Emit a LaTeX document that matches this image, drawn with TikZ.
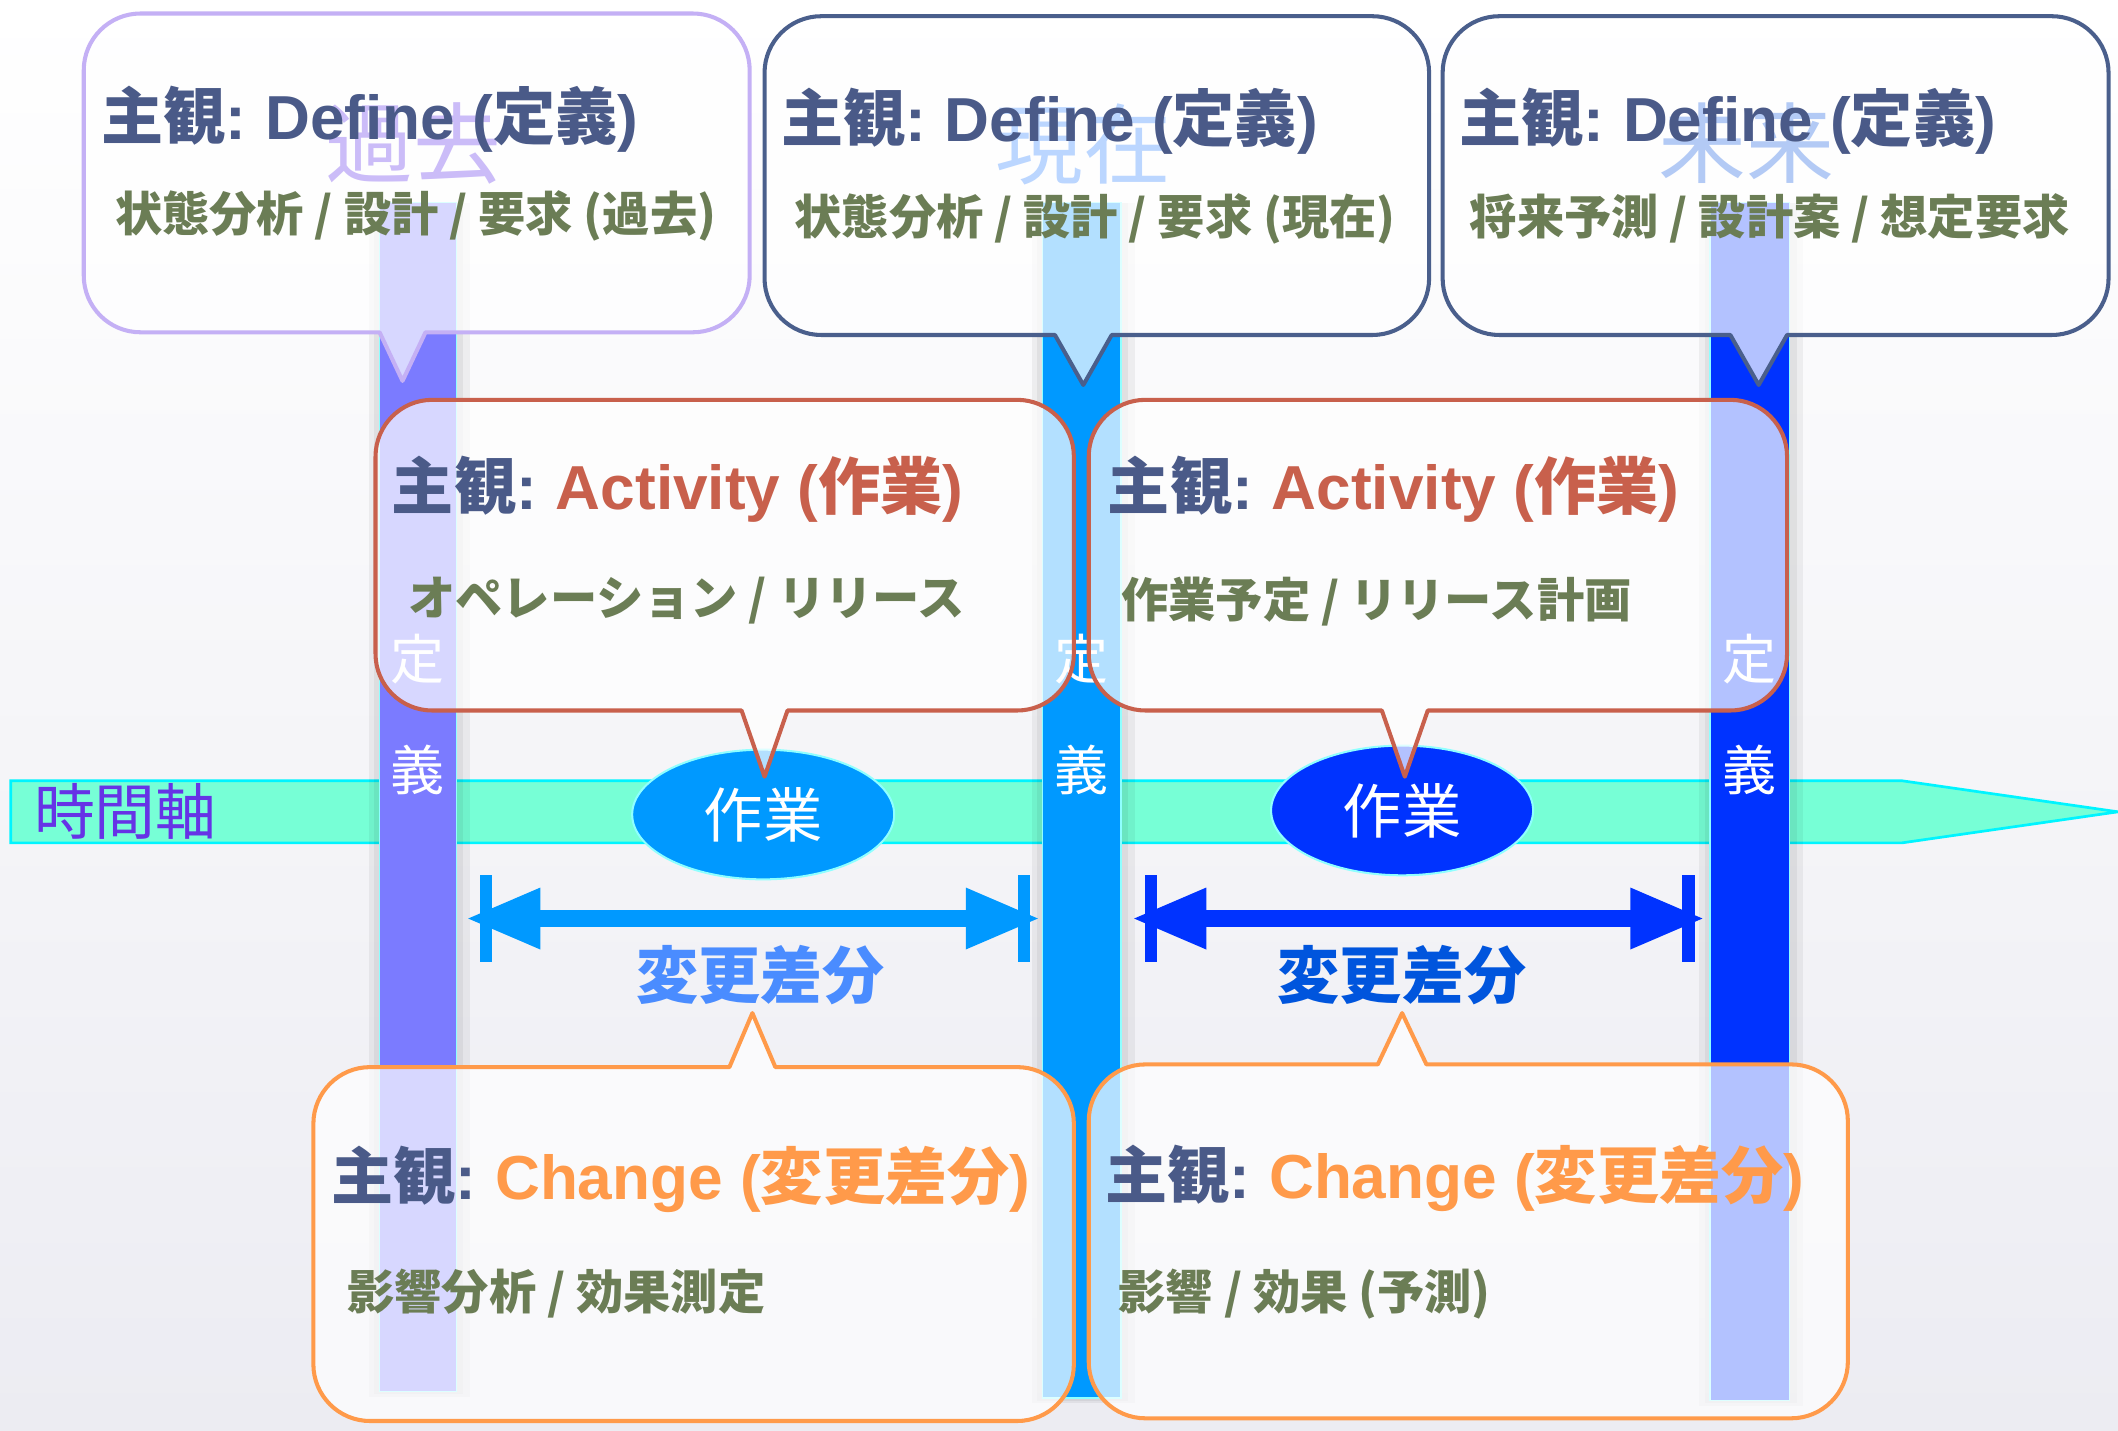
\documentclass[tikz,border=0pt]{standalone}
\usepackage{fontspec}
\setmainfont{Noto Sans CJK JP}
\newfontfamily\lat{Liberation Sans}[UprightFont={* Bold}, BoldFont={* Bold}]
\usetikzlibrary{arrows.meta,shapes.geometric}
\definecolor{bgbot}{HTML}{ECECF2}
\definecolor{axisfill}{HTML}{77FFD6}
\definecolor{axisline}{HTML}{00F4FF}
\definecolor{axistext}{HTML}{6633E6}
\definecolor{barA}{HTML}{7B7BFF}
\definecolor{barB}{HTML}{0099FF}
\definecolor{barC}{HTML}{0033FF}
\definecolor{edgecyan}{HTML}{8FFFFF}
\definecolor{defA}{HTML}{C4B0F5}
\definecolor{defB}{HTML}{4A5F8C}
\definecolor{actline}{HTML}{C8604C}
\definecolor{chgline}{HTML}{FF9A4A}
\definecolor{titleblue}{HTML}{4A5A88}
\definecolor{subgreen}{HTML}{6B7D55}
\definecolor{wmA}{HTML}{CBBCF8}
\definecolor{wmB}{HTML}{BBD6FF}
\definecolor{wmC}{HTML}{B3CAF5}
\definecolor{diffA}{HTML}{4A8CFF}
\definecolor{diffB}{HTML}{0055DD}
\newcommand\callDown[8]{%
\draw[#1] (#2,{-(#3)-42}) arc[start angle=180,end angle=90,radius=42pt] -- ({#4-42},-#3) arc[start angle=90,end angle=0,radius=42pt] -- (#4,{-(#5)+42}) arc[start angle=0,end angle=-90,radius=42pt] -- ({#6+#7},-#5) -- (#6,-#8) -- ({#6-#7},-#5) -- ({#2+42},-#5) arc[start angle=-90,end angle=-180,radius=42pt] -- cycle;}
\newcommand\callUp[8]{%
\draw[#1] (#2,{-(#3)-42}) arc[start angle=180,end angle=90,radius=42pt] -- ({#6-#7},-#3) -- (#6,-#8) -- ({#6+#7},-#3) -- ({#4-42},-#3) arc[start angle=90,end angle=0,radius=42pt] -- (#4,{-(#5)+42}) arc[start angle=0,end angle=-90,radius=42pt] -- ({#2+42},-#5) arc[start angle=-90,end angle=-180,radius=42pt] -- cycle;}
\tikzset{
  boxfill/.style={fill=white, fill opacity=0.7, line width=3pt, line join=round},
  bar/.style={draw=edgecyan, line width=1pt},
  barlabel/.style={text=white, inner sep=0pt, font=\fontsize{40}{44}\selectfont},
  title/.style={anchor=west, inner sep=0pt, text=titleblue, font=\fontsize{46}{52}\selectfont\bfseries},
  subtitle/.style={anchor=west, inner sep=0pt, text=subgreen, font=\fontsize{35}{40}\selectfont\bfseries},
  watermark/.style={inner sep=0pt, font=\fontsize{65}{68}\selectfont},
  work/.style={ellipse, draw=edgecyan, line width=1.5pt, minimum width=194pt, minimum height=96pt, inner sep=0pt, text=white, font=\fontsize{44}{48}\selectfont},
  diffarrow/.style={line width=12pt, {Triangle[length=55pt,width=42pt]}-{Triangle[length=55pt,width=42pt]}},
  tick/.style={line width=9pt},
  difflabel/.style={inner sep=0pt, font=\fontsize{46}{50}\selectfont\bfseries}
}
\begin{document}
\begin{tikzpicture}[x=1pt,y=1pt]
\useasboundingbox (0,0) rectangle (1568,-1059);
\shade[top color=white, bottom color=bgbot] (0,0) rectangle (1568,-1059);

% time axis
\draw[fill=axisfill, draw=axisline, line width=2pt] (8,-578) -- (1408,-578) -- (1568,-601) -- (1408,-624) -- (8,-624) -- cycle;
\node[anchor=west, inner sep=0pt, text=axistext, font=\fontsize{45}{48}\selectfont] (axis) at (25,-601) {時間軸};

% bar shadows
\foreach \xa/\xb/\yb in {281/338/1030, 772/830/1035, 1266/1325/1037}{
  \fill[black, opacity=0.05] ({\xa-8},-150) rectangle ({\xb+10},-\yb-4);
  \fill[black, opacity=0.05] ({\xa-4},-150) rectangle ({\xb+5},-\yb-2);
}
% bars
\draw[bar, fill=barA] (281,-150) rectangle (338,-1030);
\draw[bar, fill=barB] (772,-150) rectangle (830,-1035);
\draw[bar, fill=barC] (1266,-150) rectangle (1325,-1037);

% work ellipses
\node[work, fill=barB] (workA) at (565,-603) {作業};
\node[work, fill=barC] (workB) at (1038,-600) {作業};

% difference arrows
\coordinate (dAl) at (345,-680); \coordinate (dAr) at (770,-680);
\coordinate (tA1a) at (360,-648); \coordinate (tA1b) at (360,-712);
\coordinate (tA2a) at (758,-648); \coordinate (tA2b) at (758,-712);
\draw[diffarrow, barB] (dAl) -- (dAr);
\draw[tick, barB] (tA1a) -- (tA1b);
\draw[tick, barB] (tA2a) -- (tA2b);
\coordinate (dBl) at (838,-680); \coordinate (dBr) at (1262,-680);
\coordinate (tB1a) at (852,-648); \coordinate (tB1b) at (852,-712);
\coordinate (tB2a) at (1250,-648); \coordinate (tB2b) at (1250,-712);
\draw[diffarrow, barC] (dBl) -- (dBr);
\draw[tick, barC] (tB1a) -- (tB1b);
\draw[tick, barC] (tB2a) -- (tB2b);
\node[difflabel, text=diffA] (diffA) at (563,-722) {変更差分};
\node[difflabel, text=diffB] (diffB) at (1038,-722) {変更差分};

% Define callouts
\callDown{boxfill, draw=defA}{62}{10}{555}{246}{298}{17}{282}
\callDown{boxfill, draw=defB}{566}{12}{1058}{248}{802}{21}{285}
\callDown{boxfill, draw=defB}{1068}{12}{1561}{248}{1302}{21}{285}
\node[watermark, text=wmA] (wmA) at (306,-106) {過去};
\node[watermark, text=wmB] (wmB) at (802,-107) {現在};
\node[watermark, text=wmC] (wmC) at (1293,-106) {未来};
\node[title] (defTA) at (75,-88) {主観{\lat :} {\lat Define (}定義{\lat )}};
\node[title] (defTB) at (578,-90) {主観{\lat :} {\lat Define (}定義{\lat )}};
\node[title] (defTC) at (1080,-90) {主観{\lat :} {\lat Define (}定義{\lat )}};
\node[subtitle] (defSA) at (85,-160) {状態分析 / 設計 / 要求 (過去)};
\node[subtitle] (defSB) at (588,-162) {状態分析 / 設計 / 要求 (現在)};
\node[subtitle] (defSC) at (1088,-162) {将来予測 / 設計案 / 想定要求};

% bar labels
\node[barlabel] (lA1) at (309,-488) {定};
\node[barlabel] (lA2) at (309,-570) {義};
\node[barlabel] (lB1) at (801,-488) {定};
\node[barlabel] (lB2) at (801,-570) {義};
\node[barlabel] (lC1) at (1295,-488) {定};
\node[barlabel] (lC2) at (1295,-570) {義};

% Activity callouts
\callDown{boxfill, draw=actline}{278}{296}{795}{526}{566}{17}{575}
\callDown{boxfill, draw=actline}{806}{296}{1323}{526}{1040}{17}{575}
\node[title] (actTA) at (290,-362) {主観{\lat :} \textcolor{actline}{{\lat Activity (}作業{\lat )}}};
\node[title] (actTB) at (820,-362) {主観{\lat :} \textcolor{actline}{{\lat Activity (}作業{\lat )}}};
\node[subtitle] (actSA) at (302,-445) {オペレーション / リリース};
\node[subtitle] (actSB) at (830,-445) {作業予定 / リリース計画};

% Change callouts
\callUp{boxfill, draw=chgline}{232}{790}{795}{1052}{557}{17}{750}
\callUp{boxfill, draw=chgline}{806}{788}{1368}{1050}{1038}{18}{750}
\node[title] (chgTA) at (245,-873) {主観{\lat :} \textcolor{chgline}{{\lat Change (}変更差分{\lat )}}};
\node[title] (chgTB) at (818,-872) {主観{\lat :} \textcolor{chgline}{{\lat Change (}変更差分{\lat )}}};
\node[subtitle] (chgSA) at (257,-958) {影響分析 / 効果測定};
\node[subtitle] (chgSB) at (828,-958) {影響 / 効果 (予測)};
\end{tikzpicture}
\end{document}
